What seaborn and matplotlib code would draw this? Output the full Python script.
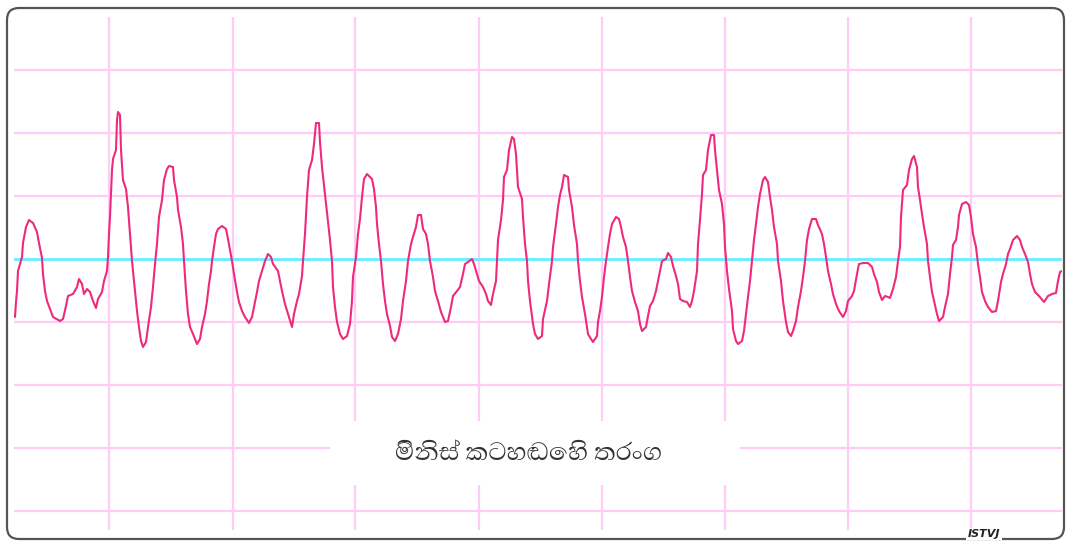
import matplotlib
matplotlib.use("Agg")
import matplotlib.pyplot as plt
import matplotlib.font_manager as fm
from matplotlib.ft2font import FT2Font
from matplotlib.patches import FancyBboxPatch, Rectangle
import seaborn as sns
import pandas as pd

# ---- data: digitised voice waveform (sample index, amplitude in counts) ----
t = [15, 16, 17, 18, 22, 23, 26, 29, 33, 37, 39, 42, 43, 45, 47, 50, 53, 60, 63, 66,
     68, 73, 77, 79, 82, 84, 87, 90, 93, 96, 98, 102, 104, 107, 108, 109, 110, 112, 113, 116,
     117, 118, 120, 121, 123, 126, 128, 130, 132, 134, 137, 139, 141, 143, 146, 148, 151, 153, 155, 157,
     159, 162, 164, 167, 169, 173, 174, 177, 178, 181, 183, 184, 186, 188, 190, 193, 197, 200, 202, 205,
     207, 209, 211, 212, 214, 216, 218, 222, 226, 228, 230, 232, 234, 237, 239, 242, 245, 249, 252, 254,
     257, 259, 262, 265, 268, 271, 273, 278, 280, 282, 285, 288, 292, 294, 297, 299, 302, 303, 305, 307,
     309, 312, 314, 316, 319, 320, 322, 325, 328, 330, 332, 333, 335, 337, 340, 343, 347, 350, 352, 353,
     356, 358, 360, 362, 364, 367, 372, 374, 376, 377, 379, 381, 383, 385, 387, 390, 392, 395, 398, 401,
     403, 406, 408, 411, 413, 416, 418, 421, 423, 426, 428, 430, 433, 435, 438, 441, 445, 448, 451, 453,
     457, 460, 463, 465, 468, 472, 474, 477, 479, 483, 486, 488, 491, 493, 496, 497, 498, 501, 503, 504,
     507, 509, 512, 514, 516, 518, 522, 523, 525, 527, 528, 530, 533, 535, 538, 542, 543, 547, 549, 552,
     553, 556, 558, 560, 562, 564, 568, 569, 572, 574, 577, 578, 580, 582, 585, 588, 591, 593, 597, 598,
     600, 602, 604, 606, 608, 610, 612, 616, 619, 621, 623, 626, 628, 630, 632, 635, 638, 640, 642, 646,
     648, 650, 653, 656, 658, 660, 662, 666, 668, 671, 673, 676, 678, 680, 683, 687, 690, 692, 694, 697,
     698, 700, 702, 703, 706, 708, 711, 714, 715, 717, 719, 722, 724, 725, 727, 729, 732, 733, 736, 738,
     742, 744, 746, 748, 750, 752, 754, 756, 758, 760, 763, 765, 768, 770, 772, 774, 777, 778, 781, 783,
     786, 788, 791, 793, 796, 798, 801, 803, 805, 807, 809, 812, 816, 818, 822, 824, 826, 828, 831, 833,
     836, 839, 843, 846, 848, 852, 854, 857, 859, 863, 868, 872, 874, 877, 879, 882, 885, 888, 890, 893,
     896, 898, 900, 901, 903, 907, 909, 912, 914, 917, 918, 920, 922, 924, 927, 928, 930, 932, 934, 937,
     939, 943, 945, 948, 950, 952, 953, 956, 958, 959, 962, 966, 969, 971, 973, 976, 978, 980, 982, 985,
     988, 992, 996, 998, 1001, 1003, 1006, 1008, 1010, 1013, 1017, 1020, 1022, 1025, 1028, 1030, 1032, 1035, 1039, 1044,
     1048, 1052, 1056, 1058, 1060, 1062]

amp = [-58, -43, -32, -12, 2, 16, 32, 39, 36, 27, 16, 1, -15, -32, -42, -50, -58, -62, -60, -47,
       -37, -35, -28, -20, -25, -35, -30, -33, -42, -49, -40, -33, -22, -12, 2, 25, 42, 89, 100, 109,
       139, 147, 144, 109, 79, 70, 52, 25, -2, -22, -52, -68, -82, -88, -83, -68, -48, -28, -5, 15,
       42, 59, 79, 90, 93, 92, 79, 62, 49, 32, 15, -2, -32, -55, -68, -75, -85, -80, -68, -55,
       -42, -25, -12, -2, 12, 25, 30, 33, 30, 20, 9, -2, -15, -33, -43, -52, -58, -64, -58, -48,
       -33, -22, -12, -2, 5, 2, -5, -12, -22, -32, -45, -55, -68, -55, -42, -35, -17, -2, 25, 62,
       89, 99, 115, 136, 136, 117, 92, 65, 39, 19, -2, -28, -48, -63, -75, -80, -77, -65, -42, -18,
       2, 25, 40, 62, 80, 85, 80, 70, 52, 35, 15, -2, -25, -42, -55, -67, -78, -82, -75, -60,
       -42, -22, -2, 15, 22, 32, 44, 44, 30, 25, 15, -2, -18, -32, -42, -53, -63, -62, -48, -37,
       -32, -28, -15, -5, -3, 0, -5, -15, -22, -28, -35, -42, -46, -35, -22, -2, 19, 39, 59, 82,
       89, 109, 122, 120, 105, 72, 60, 42, 15, -2, -22, -42, -65, -75, -80, -77, -60, -42, -25, -2,
       12, 35, 52, 64, 72, 84, 82, 69, 52, 34, 15, -2, -22, -38, -55, -75, -80, -83, -77, -63,
       -52, -38, -18, -2, 12, 25, 35, 42, 40, 32, 22, 12, -2, -18, -32, -43, -52, -65, -72, -68,
       -57, -47, -42, -32, -22, -12, -2, 0, 6, 2, -7, -17, -25, -40, -42, -43, -48, -42, -32, -12,
       15, 39, 65, 84, 89, 109, 124, 124, 109, 89, 69, 55, 35, 12, -12, -30, -52, -70, -82, -85,
       -82, -72, -55, -38, -22, -2, 19, 35, 52, 65, 79, 82, 77, 62, 49, 32, 15, -2, -22, -42,
       -63, -73, -77, -72, -62, -48, -32, -18, -2, 19, 30, 40, 40, 34, 25, 15, 2, -12, -25, -35,
       -45, -52, -58, -52, -42, -37, -32, -15, -5, -4, -4, -8, -15, -23, -33, -41, -37, -38, -39, -30,
       -18, -2, 12, 42, 69, 74, 89, 100, 103, 92, 72, 59, 45, 32, 15, -2, -18, -33, -42, -55,
       -62, -58, -48, -35, -15, 2, 14, 19, 32, 44, 55, 57, 54, 42, 25, 12, -5, -18, -33, -42,
       -48, -53, -52, -42, -23, -15, -5, 5, 10, 19, 23, 19, 12, 5, -3, -15, -25, -33, -37, -43,
       -37, -35, -34, -22, -13, -12]

time_grid = [109, 233, 355, 479, 602, 725, 848, 971]
level_grid = [-252, -189, -126, -63, 63, 126, 189]
title_text = "මිනිස් කටහඬෙහි තරංග"
credit_text = "ISTVJ"

df = pd.DataFrame({"t": t, "amp": amp})

# ---- fonts ----
sns.set_style("white")
candidates = []
for f in fm.fontManager.ttflist:
    try:
        if 0x0DB8 in FT2Font(f.fname).get_charmap():
            w = f.weight if isinstance(f.weight, int) else 400
            candidates.append((abs(w - 400) + (0 if f.style == "normal" else 500), f.name))
    except Exception:
        pass
candidates.sort()
sinhala_family = candidates[0][1] if candidates else None
families = ([sinhala_family] if sinhala_family else []) + ["DejaVu Sans"]
plt.rcParams["font.family"] = families

W, H = 1068, 541
fig = plt.figure(figsize=(W / 100, H / 100), dpi=100)
fig.patch.set_facecolor("white")

# main plotting area (pixel 14..1062 horizontally, 17..530 vertically)
ax = fig.add_axes([14 / W, (H - 530) / H, 1048 / W, 513 / H])
ax.set_facecolor("white")
ax.set_xlim(14, 1062)
ax.set_ylim(-271, 242)
ax.set_xticks(time_grid)
ax.set_yticks(level_grid)
ax.set_xticklabels([])
ax.set_yticklabels([])
ax.tick_params(length=0)
ax.grid(True, color="#FFCCF7", lw=1.6)
for s in ax.spines.values():
    s.set_visible(False)
ax.axhline(0, color="#66EEFF", lw=2.0, zorder=2)

sns.lineplot(data=df, x="t", y="amp", ax=ax, estimator=None, sort=False,
             color="#EE2A7B", lw=1.5, zorder=3)
ax.set_xlabel("")
ax.set_ylabel("")

# decoration overlay in pixel coordinates
ov = fig.add_axes([0, 0, 1, 1], zorder=5)
ov.set_xlim(0, W)
ov.set_ylim(H, 0)
ov.axis("off")
ov.add_patch(Rectangle((330, 421), 410, 64, facecolor="white", edgecolor="none"))
ov.text(529, 452, title_text, ha="center", va="center", fontsize=23,
        fontweight="normal", color="#333333")
ov.add_patch(FancyBboxPatch((7, 8), 1057, 531,
                            boxstyle="round,pad=0,rounding_size=12",
                            fill=False, edgecolor="#555555", lw=1.6))
ov.text(984, 534, credit_text, ha="center", va="center", fontsize=8,
        fontweight="bold", style="italic", color="#222222", family="DejaVu Sans",
        bbox=dict(facecolor="white", edgecolor="none", pad=1.0))

fig.savefig("out.png", dpi=100, facecolor="white")
